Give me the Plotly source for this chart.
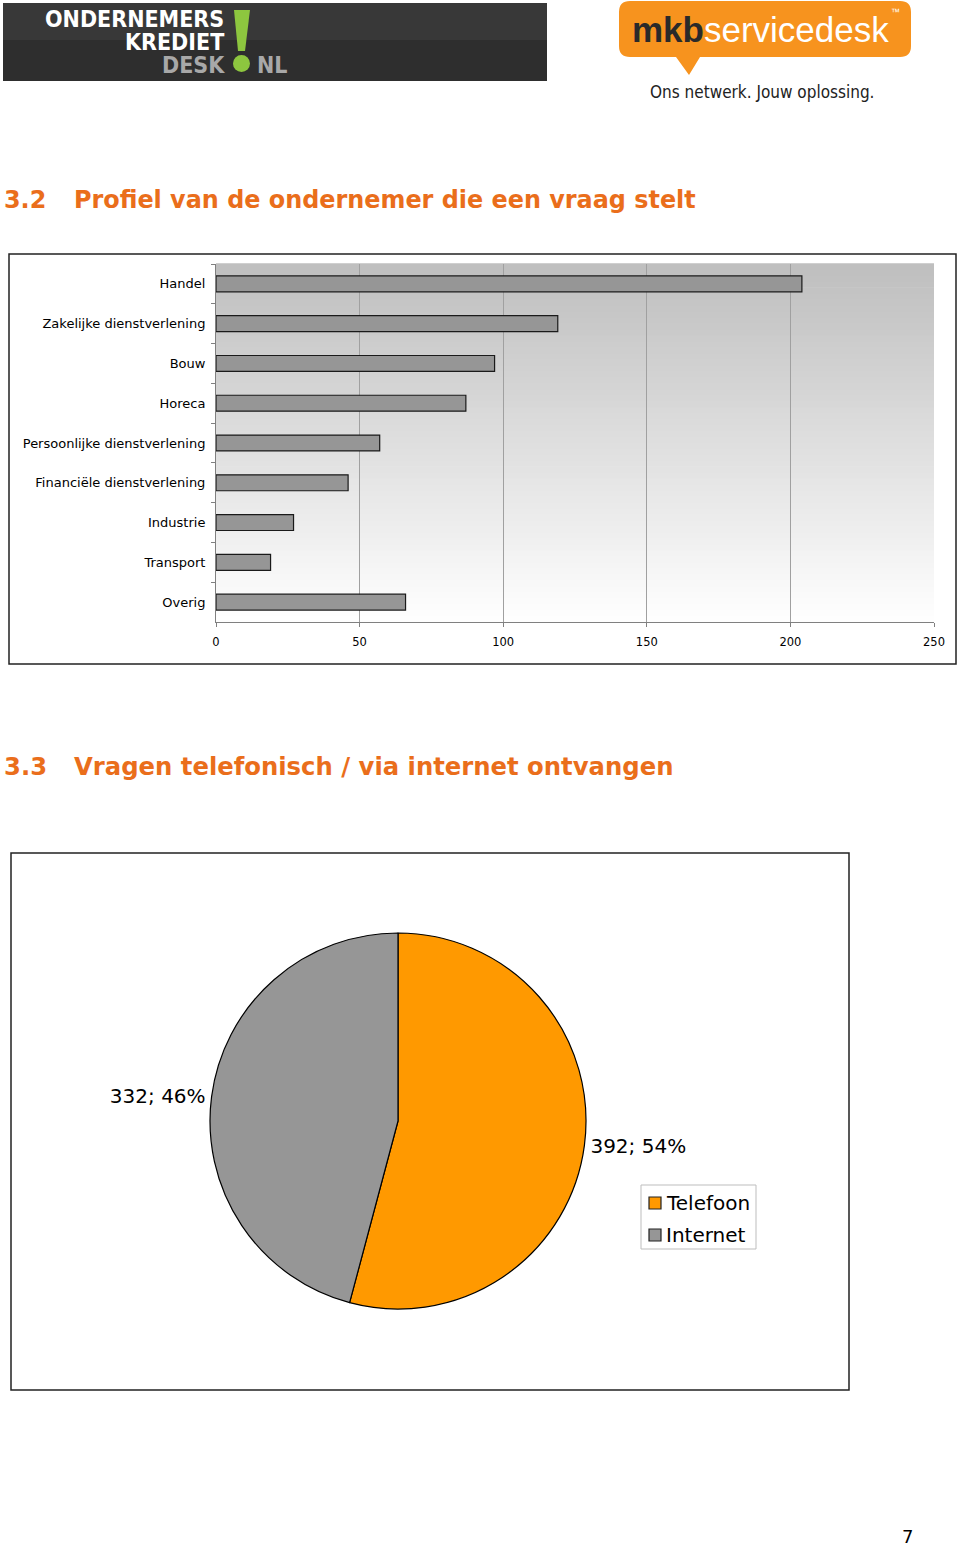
import plotly.graph_objects as go

W, H = 960, 1546

# ---------------- data ----------------
sectors = ["Handel", "Zakelijke dienstverlening", "Bouw", "Horeca",
           "Persoonlijke dienstverlening", "Financiële dienstverlening",
           "Industrie", "Transport", "Overig"]
sector_counts = [204, 119, 97, 87, 57, 46, 27, 19, 66]
x_ticks = [0, 50, 100, 150, 200, 250]

channels = ["Telefoon", "Internet"]
channel_counts = [392, 332]
channel_colors = ["#FF9900", "#969696"]

title_32_num = "3.2"
title_32 = "Profiel van de ondernemer die een vraag stelt"
title_33_num = "3.3"
title_33 = "Vragen telefonisch / via internet ontvangen"
page_no = "7"

ORANGE = "#EA6E1B"
FONT = "DejaVu Sans"
COND = "DejaVu Sans Condensed"


def px(x):
    return x / W


def py(y):
    return 1 - y / H


fig = go.Figure()

fig.add_trace(go.Bar(
    x=sector_counts, y=sectors, orientation="h",
    marker=dict(color="#969696", line=dict(color="#1a1a1a", width=1.2)),
    showlegend=False, hoverinfo="x+y",
    xaxis="x", yaxis="y",
))

fig.add_trace(go.Pie(
    labels=channels, values=channel_counts,
    marker=dict(colors=channel_colors, line=dict(color="#000000", width=1.2)),
    sort=False, direction="clockwise", rotation=0,
    textposition="outside",
    texttemplate="%{value}; %{percent:.0%}",
    textfont=dict(family=FONT, size=20, color="#000000"),
    domain=dict(x=[px(210), px(586)], y=[py(1309), py(933)]),
    showlegend=False, automargin=False,
))

shapes = []
# gradient background of the bar plot area
n = 60
for i in range(n):
    f0 = i / n
    f1 = (i + 1) / n
    fm = (f0 + f1) / 2
    v = int(round(255 - (255 - 0xBE) * fm))
    shapes.append(dict(type="rect", xref="x domain", yref="y domain",
                       x0=0, x1=1, y0=f0, y1=f1 + 0.002, layer="below",
                       line=dict(width=0),
                       fillcolor=f"rgb({v},{v},{v})"))

# frames around the charts
shapes.append(dict(type="rect", xref="paper", yref="paper",
                   x0=px(9), x1=px(956), y0=py(664), y1=py(254),
                   line=dict(color="#222222", width=1.5), fillcolor="rgba(0,0,0,0)"))
shapes.append(dict(type="rect", xref="paper", yref="paper",
                   x0=px(11), x1=px(849), y0=py(1390), y1=py(853),
                   line=dict(color="#222222", width=1.5), fillcolor="rgba(0,0,0,0)"))

# ---- left logo ----
shapes.append(dict(type="rect", xref="paper", yref="paper",
                   x0=px(3), x1=px(547), y0=py(81), y1=py(3),
                   line=dict(width=0), fillcolor="#2e2e2e", layer="below"))
shapes.append(dict(type="rect", xref="paper", yref="paper",
                   x0=px(3), x1=px(547), y0=py(40), y1=py(3),
                   line=dict(width=0), fillcolor="#383838", layer="below"))
# green exclamation mark
shapes.append(dict(type="path", xref="paper", yref="paper",
                   path=f"M {px(234)},{py(10)} L {px(250)},{py(10)} L {px(245)},{py(51)} L {px(238)},{py(51)} Z",
                   line=dict(width=0), fillcolor="#8DC63F"))
shapes.append(dict(type="circle", xref="paper", yref="paper",
                   x0=px(233), x1=px(250), y0=py(72), y1=py(55),
                   line=dict(width=0), fillcolor="#8DC63F"))

# ---- right logo: rounded speech bubble ----
bx0, bx1, by0, by1, r = 619, 911, 1, 57, 11
bubble = (
    f"M {px(bx0 + r)},{py(by0)} L {px(bx1 - r)},{py(by0)} "
    f"Q {px(bx1)},{py(by0)} {px(bx1)},{py(by0 + r)} "
    f"L {px(bx1)},{py(by1 - r)} Q {px(bx1)},{py(by1)} {px(bx1 - r)},{py(by1)} "
    f"L {px(700)},{py(by1)} L {px(689)},{py(75)} L {px(676)},{py(by1)} "
    f"L {px(bx0 + r)},{py(by1)} Q {px(bx0)},{py(by1)} {px(bx0)},{py(by1 - r)} "
    f"L {px(bx0)},{py(by0 + r)} Q {px(bx0)},{py(by0)} {px(bx0 + r)},{py(by0)} Z"
)
shapes.append(dict(type="path", xref="paper", yref="paper", path=bubble,
                   line=dict(width=0), fillcolor="#F7931E"))

# ---- manual legend for the pie ----
shapes.append(dict(type="rect", xref="paper", yref="paper",
                   x0=px(641), x1=px(756), y0=py(1249), y1=py(1185),
                   line=dict(color="#BDBDBD", width=1), fillcolor="#FFFFFF"))

annotations = []


def ann(text, x, y, size, color="#000000", xanchor="left", bold=False,
        family=FONT):
    t = f"<b>{text}</b>" if bold else text
    annotations.append(dict(text=t, x=px(x), y=py(y), xref="paper", yref="paper",
                            xanchor=xanchor, yanchor="middle", showarrow=False,
                            font=dict(family=family, size=size, color=color)))


for i, (name, col) in enumerate(zip(channels, channel_colors)):
    yc = 1203 + 32 * i
    shapes.append(dict(type="rect", xref="paper", yref="paper",
                       x0=px(649), x1=px(661), y0=py(yc + 6), y1=py(yc - 6),
                       line=dict(color="#222222", width=1.2), fillcolor=col))
    ann(name, 664, yc, 20, "#000000")

ann(title_32_num, 2, 200, 23.9, ORANGE, bold=True)
ann(title_32, 72, 200, 23.9, ORANGE, bold=True)
ann(title_33_num, 2, 767, 24.3, ORANGE, bold=True)
ann(title_33, 72, 767, 24.3, ORANGE, bold=True)
ann(page_no, 915, 1536, 18, "#000000", xanchor="right")

ann("ONDERNEMERS", 226, 19, 23, "#FFFFFF", xanchor="right", bold=True, family=COND)
ann("KREDIET", 226, 42, 23, "#FFFFFF", xanchor="right", bold=True, family=COND)
ann("DESK", 227, 65, 23, "#A8A8A8", xanchor="right", bold=True, family=COND)
ann("NL", 255, 65, 23, "#A8A8A8", xanchor="left", bold=True, family=COND)

annotations.append(dict(
    text="<span style='color:#2a2a2a'><b>mkb</b></span>servicedesk",
    x=px(630), y=py(29), xref="paper", yref="paper", xanchor="left",
    yanchor="middle", showarrow=False,
    font=dict(family="Liberation Sans", size=35, color="#FFFFFF")))
ann("™", 889, 12, 9, "#FFFFFF", xanchor="left", family="Liberation Sans")
ann("Ons netwerk. Jouw oplossing.", 762, 92, 17, "#222222", xanchor="center", family=COND)

fig.update_layout(
    width=W, height=H,
    margin=dict(l=0, r=0, t=0, b=0, autoexpand=False),
    paper_bgcolor="#FFFFFF", plot_bgcolor="#FFFFFF",
    font=dict(family=FONT, size=12, color="#000000"),
    bargap=0.6,
    showlegend=False,
    xaxis=dict(domain=[px(216), px(934)], range=[0, 250], tickvals=x_ticks,
               anchor="y", showgrid=True, gridcolor="#a0a0a0", gridwidth=1,
               zeroline=False, showline=True, linecolor="#808080",
               ticks="outside", ticklen=4, tickcolor="#808080",
               ticklabelstandoff=5, automargin=False,
               tickfont=dict(family=FONT, size=11.5, color="#000000"),
               fixedrange=True),
    yaxis=dict(domain=[py(622), py(264)], autorange="reversed",
               anchor="x", type="category", showgrid=False,
               showline=True, linecolor="#808080",
               ticks="outside", ticklen=4, tickcolor="#808080",
               tickson="boundaries", ticklabelstandoff=7, automargin=False,
               tickfont=dict(family=FONT, size=13, color="#000000"),
               fixedrange=True),
    shapes=shapes,
    annotations=annotations,
)

fig.write_html("out.html")
